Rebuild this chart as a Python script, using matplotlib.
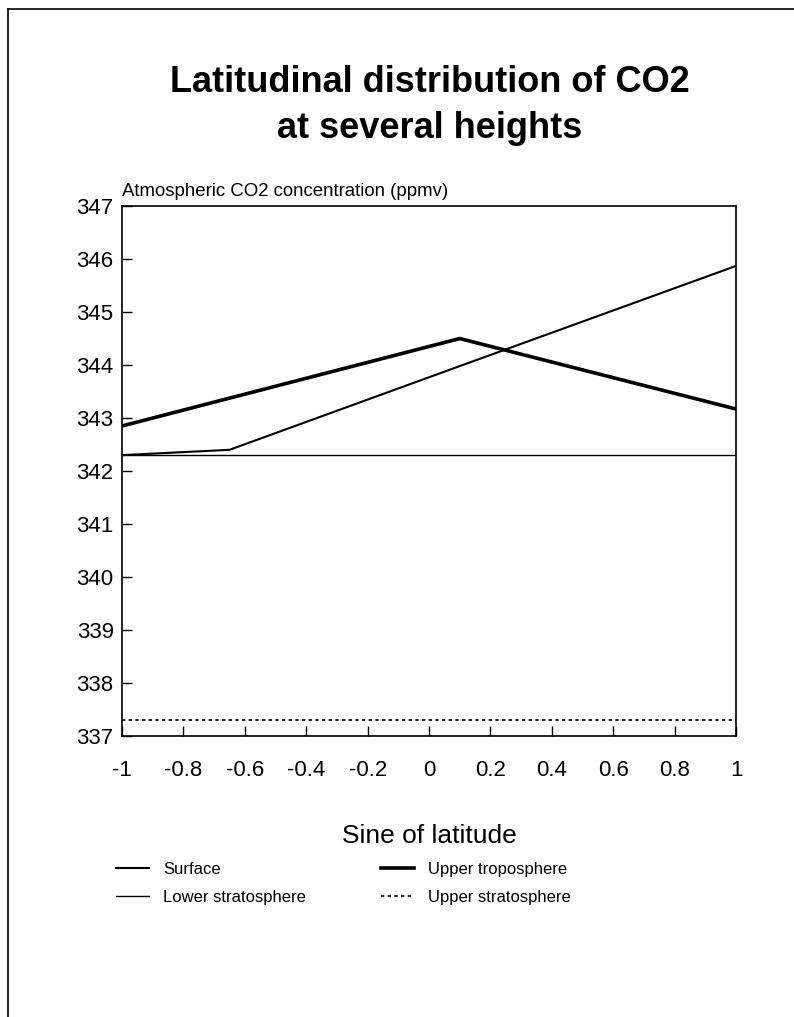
import numpy as np
import matplotlib
matplotlib.use("Agg")
import matplotlib.pyplot as plt
from matplotlib.lines import Line2D

plt.rcParams['font.family'] = ['Liberation Sans', 'DejaVu Sans']
plt.rcParams['axes.unicode_minus'] = False

# CO2 concentration (ppmv) against sine of latitude at four heights
surface_x = [-1, -0.65, 0.1, 1]
surface_y = [342.3, 342.4, 343.98, 345.87]
upper_trop_x = [-1, 0.1, 1]
upper_trop_y = [342.85, 344.5, 343.17]
lower_strat_x = [-1, 1]
lower_strat_y = [342.3, 342.3]
upper_strat_x = [-1, 1]
upper_strat_y = [337.3, 337.3]

x_ticks = [-1, -0.8, -0.6, -0.4, -0.2, 0, 0.2, 0.4, 0.6, 0.8, 1]
x_labels = ['-1', '-0.8', '-0.6', '-0.4', '-0.2', '0', '0.2', '0.4', '0.6', '0.8', '1']
y_ticks = [337, 338, 339, 340, 341, 342, 343, 344, 345, 346, 347]

fig = plt.figure(figsize=(7.94, 10.17), dpi=100)
ax = fig.add_axes([0.1537, 0.2763, 0.7733, 0.5211])

l_surf, = ax.plot(surface_x, surface_y, color='black', lw=1.5, label='Surface')
l_ut, = ax.plot(upper_trop_x, upper_trop_y, color='black', lw=2.6, label='Upper troposphere')
l_ls, = ax.plot(lower_strat_x, lower_strat_y, color='black', lw=1.0, label='Lower stratosphere')
l_us, = ax.plot(upper_strat_x, upper_strat_y, color='black', lw=1.2,
                dashes=(2, 2), label='Upper stratosphere')

ax.set_xlim(-1, 1)
ax.set_ylim(337, 347)
ax.set_xticks(x_ticks)
ax.set_xticklabels(x_labels)
ax.set_yticks(y_ticks)
ax.tick_params(axis='both', direction='in', length=7, width=1, labelsize=16)
ax.tick_params(axis='x', pad=17)
ax.tick_params(axis='y', pad=6)
for s in ax.spines.values():
    s.set_linewidth(1.2)

ax.text(0, 1.012, 'Atmospheric CO2 concentration (ppmv)', transform=ax.transAxes,
        ha='left', va='bottom', fontsize=13.4)
ax.set_xlabel('Sine of latitude', fontsize=19, labelpad=31)

fig.text(0.541, 0.8965, 'Latitudinal distribution of CO2\nat several heights',
         ha='center', va='center', fontsize=26, fontweight='bold', linespacing=1.4)

ax.legend(handles=[l_surf, l_ls, l_ut, l_us], ncol=2, frameon=False,
          loc='upper left', bbox_to_anchor=(0.127, 0.167), bbox_transform=fig.transFigure,
          fontsize=12, handlelength=2.0, handletextpad=0.84, columnspacing=4.5,
          labelspacing=0.75)

# page frame along the top and left edges
fig.add_artist(Line2D([0.01, 1.0], [0.9915, 0.9915], color='black', lw=1.2))
fig.add_artist(Line2D([0.01, 0.01], [0.0, 0.9915], color='black', lw=1.2))

fig.savefig('out.png', dpi=100)
